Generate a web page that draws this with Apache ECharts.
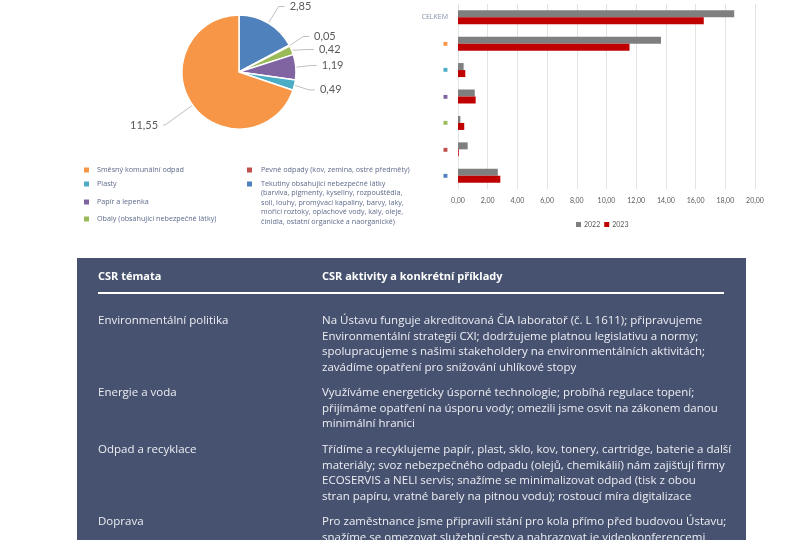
<!DOCTYPE html>
<html>
<head>
<meta charset="utf-8">
<script src="https://cdn.jsdelivr.net/npm/echarts@6/dist/echarts.min.js"></script>
<style>html,body{margin:0;padding:0;background:#fff;}#c{width:800px;height:540px;}</style>
</head>
<body>
<div id="c"></div>
<script>
// ---- data ----
var pieNames = ['Tekutiny obsahující nebezpečné látky', 'Pevné odpady (kov, zemina, ostré předměty)', 'Obaly (obsahující nebezpečné látky)', 'Papír a lepenka', 'Plasty', 'Směsný komunální odpad'];
var pieValues = [2.85, 0.05, 0.42, 1.19, 0.49, 11.55];
var pieColors = ['#4f81bd', '#c0504d', '#9bbb59', '#8064a2', '#4bacc6', '#f79646'];

var barCategories = ['Tekutiny', 'Pevné odpady', 'Obaly', 'Papír a lepenka', 'Plasty', 'Směsný komunální odpad', 'CELKEM'];
var barColors = ['#4f81bd', '#c0504d', '#9bbb59', '#8064a2', '#4bacc6', '#f79646'];
var values2022 = [2.68, 0.65, 0.16, 1.13, 0.38, 13.67, 18.6];
var values2023 = [2.85, 0.05, 0.42, 1.19, 0.49, 11.55, 16.55];
var seriesNames = ['2022', '2023'];

var tableHeader = ['CSR témata', 'CSR aktivity a konkrétní příklady'];
var tableTopics = ['Environmentální politika', 'Energie a voda', 'Odpad a recyklace', 'Doprava'];
var tableTexts = [
  ['Na Ústavu funguje akreditovaná ČIA laboratoř (č. L 1611); připravujeme',
   'Environmentální strategii CXI; dodržujeme platnou legislativu a normy;',
   'spolupracujeme s našimi stakeholdery na environmentálních aktivitách;',
   'zavádíme opatření pro snižování uhlíkové stopy'],
  ['Využíváme energeticky úsporné technologie; probíhá regulace topení;',
   'přijímáme opatření na úsporu vody; omezili jsme osvit na zákonem danou',
   'minimální hranici'],
  ['Třídíme a recyklujeme papír, plast, sklo, kov, tonery, cartridge, baterie a další',
   'materiály; svoz nebezpečného odpadu (olejů, chemikálií) nám zajišťují firmy',
   'ECOSERVIS a NELI servis; snažíme se minimalizovat odpad (tisk z obou',
   'stran papíru, vratné barely na pitnou vodu); rostoucí míra digitalizace'],
  ['Pro zaměstnance jsme připravili stání pro kola přímo před budovou Ústavu;',
   'snažíme se omezovat služební cesty a nahrazovat je videokonferencemi']
];

var legendLeft = [
  {name: 'Směsný komunální odpad', color: '#f79646'},
  {name: 'Plasty', color: '#4bacc6'},
  {name: 'Papír a lepenka', color: '#8064a2'},
  {name: 'Obaly (obsahující nebezpečné látky)', color: '#9bbb59'}
];
var legendRight = [
  {name: 'Pevné odpady (kov, zemina, ostré předměty)', color: '#c0504d'},
  {name: 'Tekutiny obsahující nebezpečné látky\n(barviva, pigmenty, kyseliny, rozpouštědla,\nsoli, louhy, promývací kapaliny, barvy, laky,\nmořicí roztoky, oplachové vody, kaly, oleje,\nčinidla, ostatní organické a naorganické)', color: '#4f81bd'}
];

function fmt(v) { return v.toFixed(2).replace('.', ','); }

// ---- graphics ----
var legendFont = '"Open Sans", sans-serif';
var legendColor = '#5f6b8c';
var graphics = [];
var leftY = [170, 184, 202, 219];
legendLeft.forEach(function (it, i) {
  graphics.push({type: 'rect', shape: {x: 84, y: leftY[i] - 2.5, width: 5, height: 5}, style: {fill: it.color}});
  graphics.push({type: 'text', x: 97, y: leftY[i], style: {text: it.name, fill: legendColor, font: '7.2px ' + legendFont, textVerticalAlign: 'middle'}});
});
var rightY = [170, 184];
legendRight.forEach(function (it, i) {
  graphics.push({type: 'rect', shape: {x: 247, y: rightY[i] - 2.5, width: 5, height: 5}, style: {fill: it.color}});
  graphics.push({type: 'text', x: 261, y: rightY[i] - 5, style: {text: it.name, fill: legendColor, font: '7.2px ' + legendFont, textVerticalAlign: 'top', lineHeight: 9.5}});
});

// table
var tFont = '"Open Sans", sans-serif';
graphics.push({type: 'rect', shape: {x: 77, y: 258, width: 669, height: 300}, style: {fill: '#46526f'}});
graphics.push({type: 'text', x: 98, y: 277, style: {text: tableHeader[0], fill: '#ffffff', font: 'bold 11px ' + tFont, textVerticalAlign: 'middle'}});
graphics.push({type: 'text', x: 322, y: 277, style: {text: tableHeader[1], fill: '#ffffff', font: 'bold 11px ' + tFont, textVerticalAlign: 'middle'}});
graphics.push({type: 'rect', shape: {x: 98, y: 292, width: 626, height: 2}, style: {fill: '#ffffff'}});
var rowTops = [313, 385, 442, 514];
tableTopics.forEach(function (t, i) {
  graphics.push({type: 'text', x: 98, y: rowTops[i], style: {text: t, fill: '#eceef3', font: '11.5px ' + tFont, textVerticalAlign: 'top', lineHeight: 15.6}});
  graphics.push({type: 'text', x: 322, y: rowTops[i], style: {text: tableTexts[i].join('\n'), fill: '#eceef3', font: '11.5px ' + tFont, textVerticalAlign: 'top', lineHeight: 15.6}});
});

var rich = {t: {color: '#8590a8', fontSize: 7, fontFamily: legendFont}};
barColors.forEach(function (c, i) { rich['s' + i] = {color: c, fontSize: 8}; });

var chart = echarts.init(document.getElementById('c'));
chart.setOption({
  animation: false,
  graphic: graphics,
  grid: {left: 458, right: 45, top: 4, bottom: 351},
  xAxis: {
    type: 'value', min: 0, max: 20, interval: 2,
    axisLine: {show: false}, axisTick: {show: false},
    splitLine: {lineStyle: {color: '#e3e3e3'}},
    axisLabel: {formatter: fmt, fontSize: 7, color: '#595959', fontFamily: '"Lato", sans-serif', margin: 8}
  },
  yAxis: {
    type: 'category', data: barCategories,
    axisLine: {show: false}, axisTick: {show: false},
    axisLabel: {
      margin: 10,
      formatter: function (v, idx) { return v === 'CELKEM' ? '{t|CELKEM}' : '{s' + idx + '|■}'; },
      rich: rich
    }
  },
  legend: {
    data: seriesNames, left: 571, top: 216, itemWidth: 5, itemHeight: 5, itemGap: 4,
    icon: 'rect', textStyle: {fontSize: 7, color: '#595959', fontFamily: '"Lato", sans-serif', padding: [0, 0, 0, -2]}
  },
  series: [
    {name: seriesNames[0], type: 'bar', data: values2022, itemStyle: {color: '#7f7f7f'}, barWidth: 7, barGap: '0%'},
    {name: seriesNames[1], type: 'bar', data: values2023, itemStyle: {color: '#c00000'}, barWidth: 7, barGap: '0%'},
    {
      type: 'pie', center: [239, 72], radius: 57, startAngle: 90, clockwise: true,
      data: pieNames.map(function (n, i) {
        var item = {name: n, value: pieValues[i], itemStyle: {color: pieColors[i]}};
        if (i === 5) { item.labelLine = {length: 34, length2: 2}; }
        return item;
      }),
      itemStyle: {borderColor: '#fff', borderWidth: 1.5},
      label: {formatter: function (p) { return fmt(p.value); }, fontSize: 11, color: '#595959', fontFamily: '"Lato", sans-serif'},
      labelLine: {length: 20, length2: 6, lineStyle: {color: '#bfbfbf'}},
      emphasis: {disabled: true}
    }
  ]
});
</script>
</body>
</html>
